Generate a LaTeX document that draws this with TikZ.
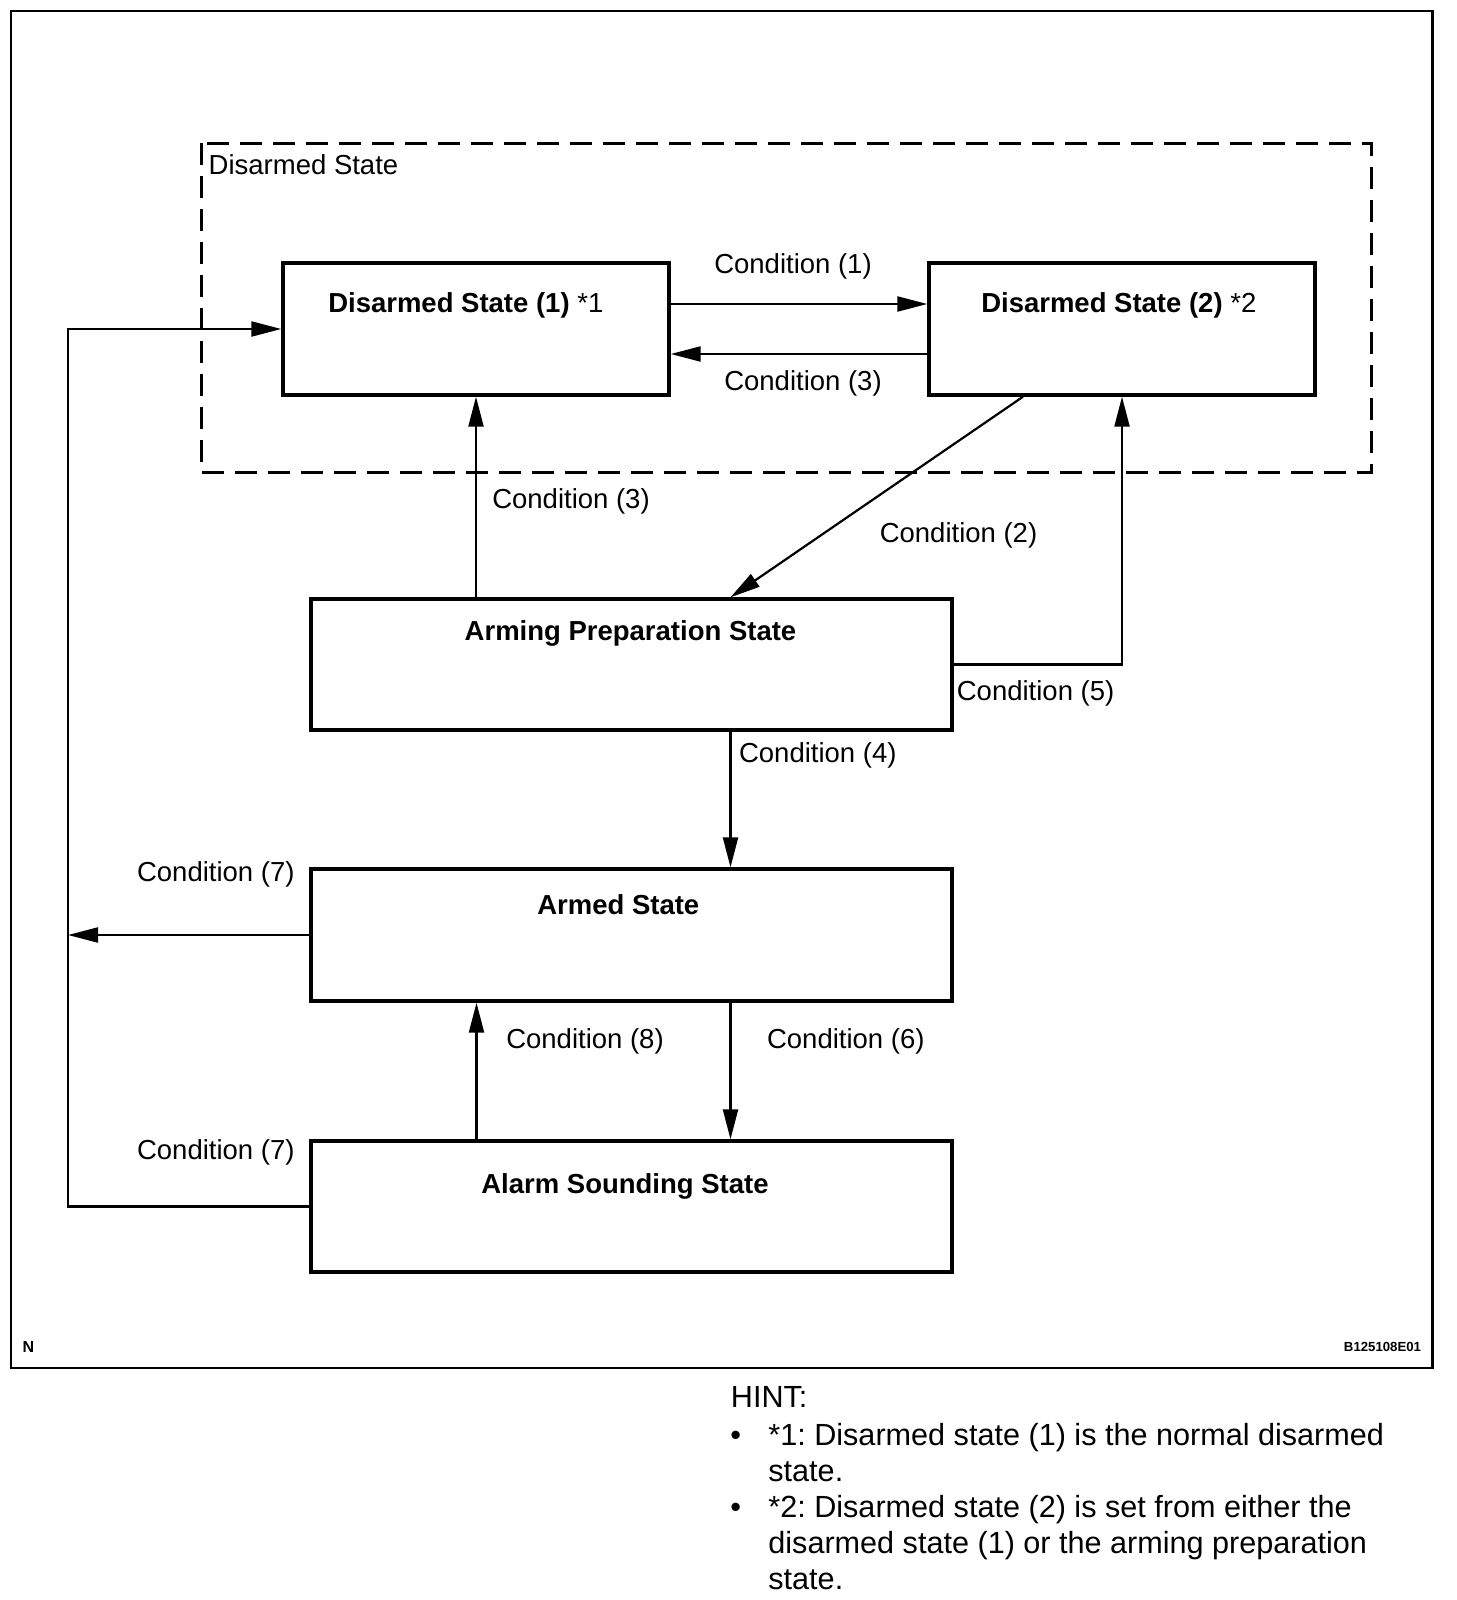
\documentclass[tikz,border=0pt]{standalone}
\usepackage{fontspec}
\setmainfont{Liberation Sans}
\usetikzlibrary{arrows.meta, positioning}

\begin{document}
\begin{tikzpicture}[
    x=0.5pt, y=-0.5pt,
    % box styles
    state box/.style={draw, rectangle, line width=1.7pt, minimum width=193pt, minimum height=66pt, inner sep=0pt},
    wide box/.style={state box, minimum width=320.5pt, minimum height=65.5pt},
    box title/.style={font=\fontsize{13.75}{16}\selectfont\bfseries, inner sep=0pt},
    cond label/.style={font=\fontsize{13.75}{16}\selectfont, inner sep=0pt},
    % edge styles
    trans/.style={line width=1.1pt, -{Triangle[length=15pt, width=7.5pt]}},
    group frame/.style={line width=1.5pt, dash pattern=on 11pt off 5.5pt},
    % notes
    hint text/.style={font=\fontsize{15.3}{18}\selectfont\frenchspacing, inner sep=0pt, anchor=base west, align=left},
    tag text/.style={font=\bfseries, inner sep=0pt}
]
    \useasboundingbox (0,0) rectangle (1456,1600);

    % =========================================================================
    % 1. Frame and disarmed group
    % =========================================================================
    \draw[line width=1.1pt] (11,11) rectangle (1432.5,1368);
    \draw[group frame] (201,143) rectangle (1371,472);
    \node[cond label] (group title) at (303.5,165) {Disarmed State};

    % =========================================================================
    % 2. States
    % =========================================================================
    \node[state box] (ds1) at (476,329) {};
    \node[state box] (ds2) at (1122,329) {};
    \node[wide box] (aps) at (631.5,664.5) {};
    \node[wide box, minimum height=66pt] (armed) at (631.5,935) {};
    \node[wide box] (alarm) at (631.5,1206.5) {};

    \node[box title] (ds1 title) at (465.8,305) {Disarmed State (1) {\mdseries *1}};
    \node[box title] (ds2 title) at (1118.8,305) {Disarmed State (2) {\mdseries *2}};
    \node[box title] (aps title) at (630.5,633.5) {Arming Preparation State};
    \node[box title] (armed title) at (618.3,904.5) {Armed State};
    \node[box title] (alarm title) at (625,1186.5) {Alarm Sounding State};

    % =========================================================================
    % 3. Transitions
    % =========================================================================
    \coordinate (loop top) at (68,329);

    \draw[trans] ([yshift=12.5pt]ds1.east) -- ([yshift=12.5pt]ds2.west);
    \draw[trans] ([yshift=-12.5pt]ds2.west) -- ([yshift=-12.5pt]ds1.east);
    \draw[trans] (ds1.south |- aps.north) -- (ds1.south);
    \draw[trans] ([xshift=-49.5pt]ds2.south) -- ([xshift=49.5pt]aps.north);
    \draw[trans] (aps.east) -| (ds2.south);
    \draw[trans] ([xshift=49.5pt]aps.south) -- ([xshift=49.5pt]armed.north);
    \draw[trans] ([xshift=49.5pt]armed.south) -- ([xshift=49.5pt]alarm.north);
    \draw[trans] ([xshift=-77.5pt]alarm.north) -- ([xshift=-77.5pt]armed.south);
    \draw[trans] (armed.west) -- (armed.west -| loop top);
    \draw[trans] (alarm.west) -| (loop top) -- (ds1.west);

    % Condition labels
    \node[cond label] (c1) at (793,266) {Condition (1)};
    \node[cond label] (c3a) at (803,383.5) {Condition (3)};
    \node[cond label] (c3b) at (571,501) {Condition (3)};
    \node[cond label] (c2) at (958.5,535.5) {Condition (2)};
    \node[cond label] (c5) at (1035.6,693.7) {Condition (5)};
    \node[cond label] (c4) at (817.8,755) {Condition (4)};
    \node[cond label] (c7a) at (215.8,874.3) {Condition (7)};
    \node[cond label] (c8) at (585,1041.7) {Condition (8)};
    \node[cond label] (c6) at (845.8,1041.7) {Condition (6)};
    \node[cond label] (c7b) at (215.8,1151.9) {Condition (7)};

    % =========================================================================
    % 4. Figure tags and hint
    % =========================================================================
    \node[tag text, font=\fontsize{8}{9}\selectfont\bfseries] (fig n) at (28.5,1347) {N};
    \node[tag text, font=\fontsize{6.6}{8}\selectfont\bfseries] (fig code) at (1382.5,1347) {B125108E01};

    % base anchor sits on the last line
    \node[hint text] (hint) at (730.5,1407) {HINT:};
    \node[hint text] (bul1) at (730,1445) {\textbullet};
    \node[hint text] (item1) at (768,1481) {*1: Disarmed state (1) is the normal disarmed\\state.};
    \node[hint text] (bul2) at (730,1517) {\textbullet};
    \node[hint text] (item2) at (768,1589) {*2: Disarmed state (2) is set from either the\\disarmed state (1) or the arming preparation\\state.};
\end{tikzpicture}
\end{document}
